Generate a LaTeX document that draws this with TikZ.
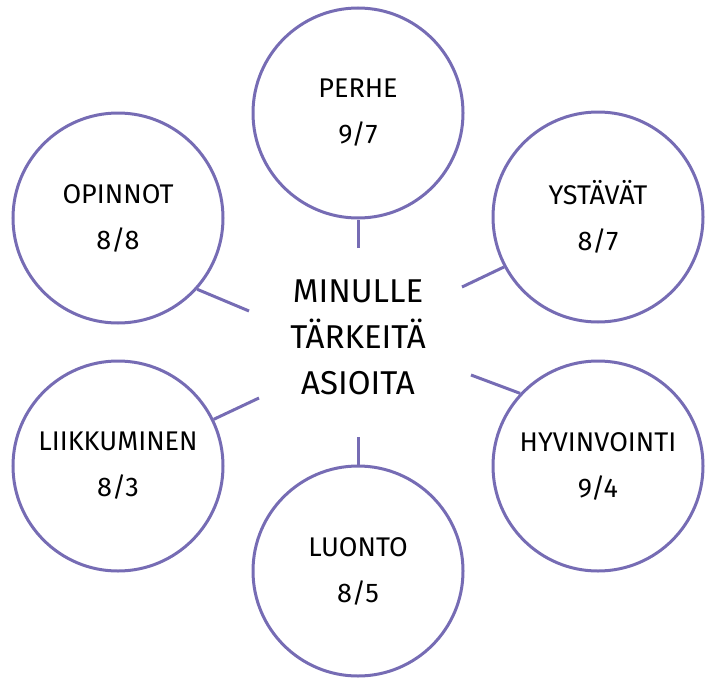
\documentclass[tikz,border=0pt]{standalone}
\usepackage{fontspec}
\setmainfont{Fira Sans}
\usepackage{tikz}
\definecolor{ympyra}{RGB}{118,108,180}

\begin{document}
\begin{tikzpicture}[x=1pt,y=-1pt,
  aihe/.style={circle,draw=ympyra,line width=3pt,minimum size=210pt,inner sep=0pt,
    align=center,font=\fontsize{27}{46}\selectfont},
  keski/.style={align=center,font=\fontsize{33}{46}\selectfont},
  viiva/.style={draw=ympyra,line width=3pt}]
\useasboundingbox (0,0) rectangle (706,680);

\node[keski] (keskus) at (358,337) {MINULLE\\TÄRKEITÄ\\ASIOITA};

\node[aihe] (perhe) at (358,113) {PERHE\\9/7};
\node[aihe] (opinnot) at (118,218) {OPINNOT\\8/8};
\node[aihe] (ystavat) at (598,217) {YSTÄVÄT\\8/7};
\node[aihe] (liikkuminen) at (118,466) {LIIKKUMINEN\\8/3};
\node[aihe] (hyvinvointi) at (598,466) {HYVINVOINTI\\9/4};
\node[aihe] (luonto) at (358,571) {LUONTO\\8/5};

\coordinate (k1) at (358,248);
\coordinate (k2) at (249,311);
\coordinate (k3) at (462,287);
\coordinate (k4) at (259,398);
\coordinate (k5) at (471,375);
\coordinate (k6) at (358,437);

\draw[viiva] (k1) -- (perhe.south);
\draw[viiva] (k2) -- (opinnot.-42);
\draw[viiva] (k3) -- (ystavat.208);
\draw[viiva] (k4) -- (liikkuminen.26);
\draw[viiva] (k5) -- (hyvinvointi.137);
\draw[viiva] (k6) -- (luonto.north);
\end{tikzpicture}
\end{document}
